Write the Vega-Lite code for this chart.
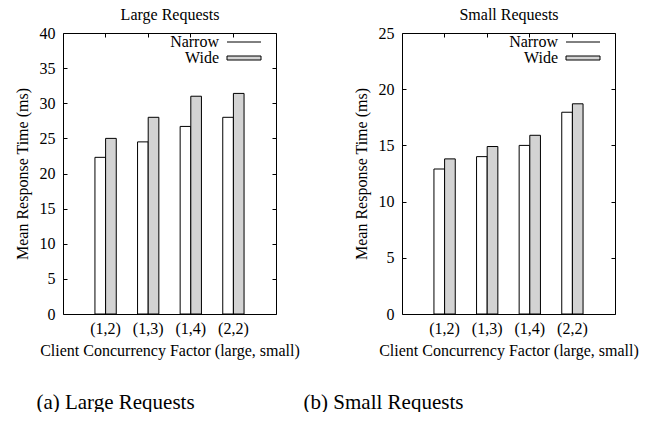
{
  "$schema": "https://vega.github.io/schema/vega-lite/v6.json",
  "background": "white",
  "padding": {"left": 14, "top": -104, "right": 0, "bottom": 0},
  "datasets": {
    "large": [
      {"cat": "(1,2)", "series": "Narrow", "value": 22.3},
      {"cat": "(1,2)", "series": "Wide", "value": 25.0},
      {"cat": "(1,3)", "series": "Narrow", "value": 24.5},
      {"cat": "(1,3)", "series": "Wide", "value": 28.0},
      {"cat": "(1,4)", "series": "Narrow", "value": 26.7},
      {"cat": "(1,4)", "series": "Wide", "value": 31.0},
      {"cat": "(2,2)", "series": "Narrow", "value": 28.0},
      {"cat": "(2,2)", "series": "Wide", "value": 31.4}
    ],
    "small": [
      {"cat": "(1,2)", "series": "Narrow", "value": 12.9},
      {"cat": "(1,2)", "series": "Wide", "value": 13.8},
      {"cat": "(1,3)", "series": "Narrow", "value": 14.0},
      {"cat": "(1,3)", "series": "Wide", "value": 14.9},
      {"cat": "(1,4)", "series": "Narrow", "value": 15.0},
      {"cat": "(1,4)", "series": "Wide", "value": 15.9},
      {"cat": "(2,2)", "series": "Narrow", "value": 17.95},
      {"cat": "(2,2)", "series": "Wide", "value": 18.7}
    ]
  },
  "config": {
    "font": "Liberation Serif, Times New Roman, serif",
    "view": {"stroke": null},
    "concat": {"spacing": 3},
    "axis": {
      "labelFont": "Liberation Serif, Times New Roman, serif",
      "titleFont": "Liberation Serif, Times New Roman, serif",
      "domainColor": "black",
      "domainWidth": 1,
      "tickColor": "black",
      "tickWidth": 1,
      "tickSize": -4,
      "labelColor": "black",
      "labelFontSize": 16,
      "titleColor": "black",
      "titleFontSize": 16,
      "titleFontWeight": "normal",
      "grid": false
    },
    "legend": {
      "labelFont": "Liberation Serif, Times New Roman, serif",
      "labelFontSize": 16,
      "labelColor": "black"
    }
  },
  "hconcat": [
    {
      "width": 213,
      "height": 281,
      "data": {"name": "large"},
      "resolve": {"axis": {"x": "independent", "y": "independent"}},
      "layer": [
        {
          "mark": {"type": "bar", "stroke": "black", "strokeWidth": 1},
          "encoding": {
            "x": {"field": "cat", "type": "nominal", "sort": null,
              "scale": {"paddingInner": 0.5, "paddingOuter": 0.75},
              "axis": {"orient": "bottom", "labelAngle": 0, "ticks": false, "labelPadding": 6, "titlePadding": 6, "title": "Client Concurrency Factor (large, small)"}},
            "xOffset": {"field": "series", "type": "nominal", "sort": ["Narrow", "Wide"], "scale": {"paddingInner": 0, "paddingOuter": 0}},
            "y": {"field": "value", "type": "quantitative",
              "scale": {"domain": [0, 40], "nice": false},
              "axis": {"orient": "left", "values": [0, 5, 10, 15, 20, 25, 30, 35, 40], "labelPadding": 12, "titlePadding": 9, "title": "Mean Response Time  (ms)"}},
            "fill": {"field": "series", "type": "nominal",
              "scale": {"domain": ["Narrow", "Wide"], "range": ["white", "#d3d3d3"]},
              "legend": {"title": null, "orient": "none", "legendX": 173, "legendY": 1, "padding": 0, "symbolSize": 16, "rowPadding": 0, "labelAlign": "right", "labelOffset": -33, "symbolStrokeColor": "black", "symbolStrokeWidth": 1,
                "encode": {"symbols": {"update": {"shape": {"signal": "datum.value === 'Narrow' ? 'M-8.5,0H8.5' : 'M-8.5,-1H8.5V1H-8.5Z'"}, "stroke": {"value": "black"}, "strokeWidth": {"value": 1}}}}}}
          }
        },
        {
          "mark": {"type": "bar", "opacity": 0},
          "encoding": {
            "x": {"field": "cat", "type": "nominal", "sort": null,
              "axis": {"orient": "top", "labels": false, "titlePadding": 10, "title": "Large Requests"}},
            "y": {"field": "value", "type": "quantitative",
              "axis": {"orient": "right", "labels": false, "values": [0, 5, 10, 15, 20, 25, 30, 35, 40], "title": null}}
          }
        },
        {
          "mark": {"type": "bar", "opacity": 0},
          "encoding": {
            "x": {"field": "cat", "type": "nominal", "sort": null,
              "axis": {"orient": "bottom", "labels": false, "ticks": false, "domain": false, "title": "(a) Large Requests", "titleFontSize": 21, "titleX": 52, "titleY": 88, "titleAlign": "center", "titleBaseline": "middle"}}
          }
        }
      ]
    },
    {
      "width": 213,
      "height": 281,
      "data": {"name": "small"},
      "resolve": {"axis": {"x": "independent", "y": "independent"}},
      "layer": [
        {
          "mark": {"type": "bar", "stroke": "black", "strokeWidth": 1},
          "encoding": {
            "x": {"field": "cat", "type": "nominal", "sort": null,
              "scale": {"paddingInner": 0.5, "paddingOuter": 0.75},
              "axis": {"orient": "bottom", "labelAngle": 0, "ticks": false, "labelPadding": 6, "titlePadding": 6, "title": "Client Concurrency Factor (large, small)"}},
            "xOffset": {"field": "series", "type": "nominal", "sort": ["Narrow", "Wide"], "scale": {"paddingInner": 0, "paddingOuter": 0}},
            "y": {"field": "value", "type": "quantitative",
              "scale": {"domain": [0, 25], "nice": false},
              "axis": {"orient": "left", "values": [0, 5, 10, 15, 20, 25], "labelPadding": 12, "titlePadding": 9, "title": "Mean Response Time (ms)"}},
            "fill": {"field": "series", "type": "nominal",
              "scale": {"domain": ["Narrow", "Wide"], "range": ["white", "#d3d3d3"]},
              "legend": {"title": null, "orient": "none", "legendX": 173, "legendY": 1, "padding": 0, "symbolSize": 16, "rowPadding": 0, "labelAlign": "right", "labelOffset": -33, "symbolStrokeColor": "black", "symbolStrokeWidth": 1,
                "encode": {"symbols": {"update": {"shape": {"signal": "datum.value === 'Narrow' ? 'M-8.5,0H8.5' : 'M-8.5,-1H8.5V1H-8.5Z'"}, "stroke": {"value": "black"}, "strokeWidth": {"value": 1}}}}}}
          }
        },
        {
          "mark": {"type": "bar", "opacity": 0},
          "encoding": {
            "x": {"field": "cat", "type": "nominal", "sort": null,
              "axis": {"orient": "top", "labels": false, "titlePadding": 10, "title": "Small Requests"}},
            "y": {"field": "value", "type": "quantitative",
              "axis": {"orient": "right", "labels": false, "values": [0, 5, 10, 15, 20, 25], "title": null}}
          }
        },
        {
          "mark": {"type": "bar", "opacity": 0},
          "encoding": {
            "x": {"field": "cat", "type": "nominal", "sort": null,
              "axis": {"orient": "bottom", "labels": false, "ticks": false, "domain": false, "title": "(b) Small Requests", "titleFontSize": 21, "titleX": -19, "titleY": 88, "titleAlign": "center", "titleBaseline": "middle"}}
          }
        }
      ]
    }
  ],
  "resolve": {"legend": {"fill": "independent"}}
}
